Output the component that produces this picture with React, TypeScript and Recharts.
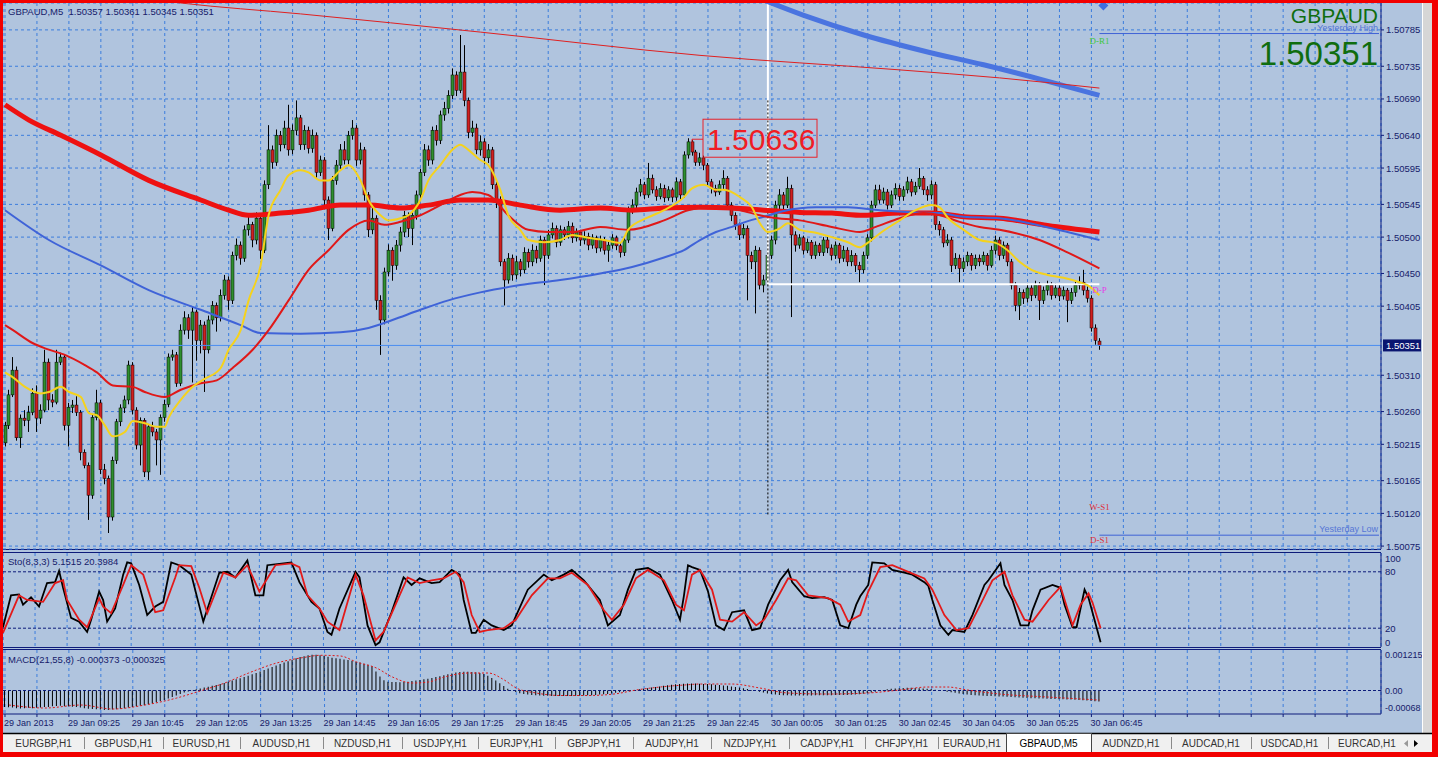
import React from 'react';
import {
  ComposedChart,
  Bar,
  Line,
  XAxis,
  YAxis,
  CartesianGrid,
  ReferenceLine,
  ReferenceDot,
} from 'recharts';

// GBPAUD M5 candles, prices in points above 1.50000
const BASE = 1.5;
const SLOTS = 345;

const opens = [
  217, 241, 283, 317, 224, 251, 248, 259, 285, 251, 262, 328, 276, 273, 328, 335, 241, 266, 269, 259,
  204, 186, 145, 252, 272, 180, 168, 115, 193, 246, 265, 276, 324, 262, 214, 248, 177, 239, 232, 221,
  252, 270, 335, 338, 299, 372, 389, 372, 397, 358, 379, 345, 386, 406, 389, 420, 441, 413, 475, 489,
  471, 510, 517, 496, 526, 482, 572, 620, 603, 640, 627, 650, 620, 647, 664, 627, 647, 622, 640, 589,
  606, 551, 512, 578, 599, 620, 606, 640, 650, 606, 620, 558, 510, 526, 413, 386, 452, 482, 461, 489,
  507, 530, 512, 530, 558, 589, 620, 606, 647, 633, 668, 677, 695, 723, 702, 727, 688, 644, 650, 620,
  631, 609, 620, 572, 551, 466, 441, 471, 448, 466, 455, 479, 466, 482, 471, 496, 475, 503, 512, 493,
  510, 503, 515, 499, 507, 496, 501, 489, 499, 485, 496, 482, 489, 499, 488, 479, 496, 537, 544, 562,
  572, 558, 581, 565, 556, 567, 554, 565, 555, 576, 558, 613, 631, 617, 603, 609, 599, 576, 567, 562,
  572, 581, 544, 530, 517, 503, 512, 475, 466, 482, 434, 441, 475, 496, 544, 558, 544, 567, 503, 489,
  499, 482, 493, 475, 489, 479, 496, 485, 475, 489, 471, 482, 466, 475, 461, 455, 475, 499, 544, 565,
  551, 562, 544, 558, 567, 556, 565, 576, 562, 570, 581, 565, 558, 572, 517, 510, 492, 496, 461, 471,
  457, 466, 475, 461, 471, 466, 475, 461, 482, 496, 475, 489, 466, 434, 406, 424, 416, 430, 420, 434,
  413, 427, 434, 420, 430, 419, 427, 413, 424, 434, 438, 427, 416, 375, 357,
];
const highs = [
  246, 290, 335, 322, 256, 262, 268, 292, 296, 270, 345, 333, 284, 345, 341, 338, 272, 276, 281, 262,
  208, 190, 256, 290, 276, 188, 172, 198, 250, 270, 282, 330, 328, 266, 252, 251, 243, 246, 236, 256,
  276, 340, 345, 342, 380, 398, 394, 405, 400, 386, 384, 392, 412, 410, 428, 448, 446, 480, 498, 494,
  516, 528, 521, 534, 530, 578, 654, 626, 648, 646, 660, 682, 655, 688, 668, 654, 652, 648, 644, 612,
  610, 556, 584, 606, 628, 632, 646, 661, 654, 630, 624, 562, 540, 530, 420, 458, 490, 486, 496, 514,
  536, 534, 536, 564, 594, 628, 626, 652, 654, 674, 686, 702, 732, 728, 778, 764, 692, 660, 656, 640,
  636, 628, 624, 576, 556, 470, 478, 476, 474, 470, 486, 484, 490, 488, 502, 500, 510, 520, 516, 516,
  514, 522, 520, 512, 510, 508, 506, 504, 502, 502, 500, 494, 504, 502, 492, 500, 542, 552, 568, 580,
  576, 602, 586, 570, 574, 572, 570, 568, 582, 580, 618, 636, 634, 620, 616, 612, 602, 580, 572, 578,
  592, 584, 548, 534, 520, 518, 516, 480, 488, 486, 448, 480, 502, 550, 566, 562, 583, 572, 508, 504,
  502, 498, 496, 494, 492, 500, 500, 490, 494, 492, 488, 486, 482, 478, 466, 480, 504, 550, 572, 572,
  568, 566, 564, 574, 572, 570, 583, 580, 576, 595, 584, 570, 578, 576, 522, 514, 504, 500, 478, 476,
  472, 480, 478, 476, 476, 480, 478, 488, 502, 500, 494, 492, 470, 438, 430, 428, 436, 434, 440, 438,
  432, 440, 438, 436, 434, 432, 430, 430, 440, 446, 455, 432, 420, 380, 361,
];
const lows = [
  212, 236, 280, 220, 210, 240, 232, 255, 232, 243, 259, 262, 266, 270, 324, 234, 212, 258, 254, 193,
  182, 111, 140, 248, 174, 160, 93, 110, 188, 240, 258, 270, 256, 208, 186, 170, 166, 226, 186, 173,
  246, 266, 330, 294, 295, 366, 360, 300, 330, 340, 287, 340, 380, 370, 384, 414, 400, 408, 468, 462,
  466, 502, 486, 490, 470, 478, 566, 594, 598, 618, 622, 612, 614, 640, 620, 620, 615, 616, 582, 584,
  540, 496, 508, 572, 594, 600, 600, 634, 598, 600, 550, 500, 504, 400, 338, 380, 446, 440, 455, 480,
  500, 500, 489, 524, 552, 584, 598, 600, 626, 628, 660, 670, 690, 694, 698, 680, 636, 638, 614, 612,
  600, 602, 566, 540, 460, 406, 436, 440, 442, 446, 450, 458, 460, 464, 466, 434, 470, 498, 486, 488,
  496, 498, 492, 494, 488, 490, 482, 484, 478, 480, 476, 466, 484, 482, 472, 474, 492, 532, 540, 556,
  552, 554, 560, 550, 552, 548, 550, 548, 550, 552, 554, 608, 612, 598, 598, 592, 570, 560, 556, 558,
  566, 538, 522, 510, 496, 498, 413, 456, 395, 428, 424, 436, 470, 490, 538, 536, 540, 390, 480, 484,
  476, 478, 470, 470, 474, 474, 478, 468, 470, 464, 466, 460, 460, 452, 438, 450, 470, 494, 540, 546,
  546, 538, 540, 552, 550, 550, 560, 556, 558, 566, 558, 550, 552, 510, 502, 486, 488, 452, 456, 438,
  452, 460, 454, 456, 460, 462, 454, 458, 476, 468, 470, 460, 428, 398, 386, 408, 410, 412, 416, 386,
  408, 420, 414, 416, 412, 414, 383, 408, 418, 428, 420, 410, 370, 352, 345,
];
const closes = [
  241, 283, 317, 224, 251, 248, 259, 285, 251, 262, 328, 276, 273, 328, 335, 241, 266, 269, 259, 204,
  186, 145, 252, 272, 180, 168, 115, 193, 246, 265, 276, 324, 262, 214, 248, 177, 239, 232, 221, 252,
  270, 335, 338, 299, 372, 389, 372, 397, 358, 379, 345, 386, 406, 389, 420, 441, 413, 475, 489, 471,
  510, 517, 496, 526, 482, 572, 620, 603, 640, 627, 650, 620, 647, 664, 627, 647, 622, 640, 589, 606,
  551, 512, 578, 599, 620, 606, 640, 650, 606, 620, 558, 510, 526, 413, 386, 452, 482, 461, 489, 507,
  530, 512, 530, 558, 589, 620, 606, 647, 633, 668, 677, 695, 723, 702, 727, 688, 644, 650, 620, 631,
  609, 620, 572, 551, 466, 441, 471, 448, 466, 455, 479, 466, 482, 471, 496, 475, 503, 512, 493, 510,
  503, 515, 499, 507, 496, 501, 489, 499, 485, 496, 482, 489, 499, 488, 479, 496, 537, 544, 562, 572,
  558, 581, 565, 556, 567, 554, 565, 555, 576, 558, 613, 631, 617, 603, 609, 599, 576, 567, 562, 572,
  581, 544, 530, 517, 503, 512, 475, 466, 482, 434, 441, 475, 496, 544, 558, 544, 567, 503, 489, 499,
  482, 493, 475, 489, 479, 496, 485, 475, 489, 471, 482, 466, 475, 461, 455, 475, 499, 544, 565, 551,
  562, 544, 558, 567, 556, 565, 576, 562, 570, 581, 565, 558, 572, 517, 510, 492, 496, 461, 471, 457,
  466, 475, 461, 471, 466, 475, 461, 482, 496, 475, 489, 466, 434, 406, 424, 416, 430, 420, 434, 413,
  427, 434, 420, 430, 419, 427, 413, 424, 434, 438, 427, 416, 375, 358, 351,
];

// moving averages as [bar, points]
const maYellow = [
  [0, 314], [2, 307], [5, 294], [9, 285], [11, 287], [14, 294], [16, 287], [19, 280], [21, 258], [23, 255],
  [25, 241], [27, 226], [30, 232], [32, 247], [35, 244], [38, 239], [40, 239], [41, 252], [44, 276], [47, 294],
  [50, 305], [54, 320], [56, 345], [59, 372], [61, 413], [64, 461], [66, 530], [69, 565], [71, 585], [74, 592],
  [76, 589], [79, 578], [81, 578], [84, 592], [86, 599], [89, 578], [91, 551], [94, 530], [96, 523], [99, 526],
  [101, 530], [104, 551], [106, 578], [109, 599], [112, 620], [114, 627], [116, 620], [119, 606], [121, 599],
  [124, 565], [126, 530], [129, 510], [131, 496], [135, 493], [139, 496], [142, 503], [146, 499], [150, 496],
  [154, 492], [156, 510], [161, 527], [165, 537], [170, 555], [172, 567], [175, 572], [178, 565], [180, 565],
  [184, 555], [187, 541], [189, 519], [191, 507], [194, 512], [196, 519], [199, 510], [203, 506], [207, 500],
  [211, 493], [214, 486], [216, 492], [219, 505], [224, 523], [228, 537], [232, 544], [234, 541], [236, 527],
  [240, 510], [244, 496], [248, 492], [251, 482], [254, 466], [257, 455], [261, 448], [265, 444], [269, 438],
  [271, 434], [274, 420],
];
const maRed = [
  [0, 379], [2, 372], [7, 354], [10, 347], [15, 338], [20, 324], [23, 314], [27, 296], [32, 294], [35, 287],
  [40, 280], [44, 290], [49, 299], [53, 303], [57, 320], [62, 345], [66, 372], [71, 413], [76, 455], [81, 482],
  [86, 510], [91, 523], [95, 517], [99, 521], [104, 530], [109, 544], [114, 558], [117, 562], [121, 558],
  [126, 530], [131, 510], [136, 507], [142, 507], [149, 514], [156, 510], [165, 523], [171, 537], [176, 541],
  [184, 537], [189, 530], [192, 527], [199, 523], [207, 514], [214, 507], [218, 514], [224, 526], [230, 533],
  [234, 530], [239, 521], [244, 514], [249, 510], [259, 496], [266, 479], [274, 457],
];
const maBlue = [
  [0, 537], [11, 496], [24, 461], [36, 427], [49, 400], [59, 379], [64, 368], [74, 367], [84, 369], [91, 375],
  [97, 386], [104, 400], [111, 413], [119, 424], [129, 434], [139, 441], [149, 450], [157, 459], [165, 472],
  [170, 482], [174, 496], [178, 507], [182, 514], [186, 522], [190, 528], [195, 536], [203, 541], [211, 541],
  [219, 537], [228, 534], [234, 533], [240, 528], [249, 526], [259, 516], [266, 507], [274, 496],
];
const maLong = [
  [0, 682], [6, 661], [14, 640], [24, 613], [36, 578], [49, 551], [56, 537], [61, 530], [69, 533], [76, 537],
  [84, 544], [91, 544], [99, 540], [106, 544], [114, 551], [121, 551], [129, 544], [139, 537], [149, 540],
  [157, 537], [165, 540], [174, 541], [182, 540], [190, 537], [199, 534], [207, 533], [215, 530], [224, 533],
  [232, 533], [240, 528], [249, 526], [261, 516], [274, 507],
];
const maH1 = [[190, 826], [200, 805], [215, 778], [230, 756], [245, 737], [260, 716], [274, 695]];
const maTop = [[30, 832], [44, 822], [74, 807], [119, 782], [174, 750], [224, 730], [249, 719], [274, 705]];

// Stochastic (8,3,3) as [bar, value]
const stoMain = [
  [0, 21], [2, 55], [4, 56], [5, 45], [7, 53], [9, 43], [11, 68], [13, 69], [14, 81], [15, 63], [17, 31],
  [19, 27], [21, 16], [22, 29], [24, 59], [25, 50], [26, 27], [28, 41], [30, 77], [31, 90], [32, 89], [34, 66],
  [36, 34], [38, 43], [40, 48], [42, 90], [44, 87], [47, 77], [50, 27], [54, 79], [56, 80], [58, 74], [61, 92],
  [63, 55], [65, 55], [66, 87], [72, 90], [74, 69], [77, 48], [79, 41], [81, 16], [82, 13], [84, 41], [88, 80],
  [89, 74], [91, 23], [93, 2], [94, 5], [97, 37], [100, 74], [102, 66], [104, 73], [107, 68], [109, 69],
  [112, 82], [114, 77], [115, 50], [117, 15], [118, 15], [120, 29], [122, 23], [125, 18], [127, 23], [131, 61],
  [135, 77], [137, 71], [140, 77], [142, 82], [145, 71], [149, 50], [151, 23], [154, 34], [156, 61], [158, 82],
  [161, 84], [164, 77], [167, 50], [169, 29], [170, 55], [171, 87], [172, 85], [174, 82], [176, 59], [178, 23],
  [180, 18], [182, 37], [185, 39], [187, 18], [189, 20], [191, 45], [194, 71], [196, 82], [197, 69], [200, 54],
  [202, 52], [205, 53], [207, 50], [209, 23], [211, 20], [213, 45], [214, 54], [216, 66], [217, 90], [220, 89],
  [222, 82], [225, 79], [227, 77], [230, 69], [231, 65], [232, 50], [234, 23], [236, 13], [237, 18], [240, 16],
  [242, 34], [245, 66], [246, 71], [249, 89], [250, 66], [252, 50], [254, 23], [256, 23], [257, 39], [259, 61],
  [262, 66], [264, 63], [265, 45], [267, 21], [268, 21], [270, 61], [271, 52], [274, 5],
];
const stoSignal = [
  [0, 15], [4, 55], [6, 50], [10, 48], [13, 68], [15, 71], [16, 50], [19, 29], [21, 21], [24, 52], [25, 43],
  [27, 36], [30, 66], [32, 87], [35, 77], [38, 37], [40, 39], [43, 74], [44, 87], [47, 86], [49, 63], [51, 36],
  [55, 79], [58, 74], [61, 87], [64, 59], [67, 80], [68, 87], [72, 89], [74, 85], [76, 55], [79, 41], [81, 27],
  [84, 18], [88, 77], [90, 55], [93, 7], [95, 16], [99, 55], [101, 74], [104, 68], [107, 71], [110, 73],
  [113, 80], [115, 69], [117, 34], [119, 16], [121, 18], [125, 20], [128, 29], [132, 55], [136, 73], [139, 73],
  [142, 79], [146, 66], [150, 39], [152, 29], [155, 45], [158, 73], [161, 82], [165, 71], [168, 45], [170, 39],
  [172, 77], [174, 82], [177, 61], [179, 29], [182, 27], [185, 37], [188, 23], [190, 29], [193, 50], [196, 73],
  [198, 71], [201, 55], [206, 52], [209, 45], [211, 27], [214, 34], [216, 59], [219, 85], [222, 87], [226, 80],
  [230, 73], [232, 61], [235, 34], [238, 18], [241, 20], [244, 45], [247, 71], [250, 80], [252, 55], [255, 29],
  [257, 27], [261, 50], [264, 64], [267, 23], [269, 45], [271, 57], [272, 47], [274, 20],
];

// MACD (21,55,8) histogram per bar, in millionths
const macdHist = [
  -560, -570, -580, -600, -610, -600, -590, -600, -590, -580, -560, -560, -540, -530, -520, -540, -540, -550,
  -560, -580, -600, -620, -630, -640, -650, -660, -660, -650, -640, -620, -600, -580, -560, -540, -520, -500,
  -470, -440, -400, -360, -320, -270, -220, -170, -120, -70, -30, 10, 40, 70, 100, 130, 160, 190, 220, 260,
  300, 340, 380, 420, 460, 500, 550, 600, 650, 700, 750, 800, 850, 900, 950, 1000, 1050, 1100, 1140, 1170,
  1200, 1215, 1215, 1200, 1180, 1150, 1120, 1100, 1080, 1060, 1040, 1010, 980, 950, 910, 880, 830, 650, 480,
  350, 300, 290, 290, 280, 290, 300, 320, 340, 360, 380, 400, 430, 460, 490, 520, 550, 580, 610, 630, 640,
  640, 630, 620, 600, 560, 500, 430, 340, 250, 150, 60, 0, -50, -90, -120, -140, -150, -160, -170, -175, -180,
  -185, -185, -190, -190, -185, -185, -180, -175, -170, -165, -160, -150, -140, -130, -120, -100, -80, -60,
  -40, -20, 0, 20, 40, 60, 80, 100, 120, 140, 160, 180, 200, 210, 220, 230, 240, 240, 235, 230, 225, 220, 210,
  200, 190, 175, 160, 140, 120, 100, 80, 50, 20, -10, -40, -70, -100, -120, -140, -150, -160, -165, -170, -170,
  -170, -170, -170, -170, -165, -165, -160, -160, -160, -155, -155, -150, -150, -145, -140, -130, -110, -90,
  -70, -40, -10, 20, 40, 60, 70, 80, 85, 90, 90, 85, 80, 70, 60, 50, 30, 10, -10, -40, -60, -80, -100, -120,
  -140, -150, -160, -170, -180, -185, -190, -195, -200, -205, -210, -220, -230, -240, -250, -255, -260, -265,
  -270, -275, -280, -285, -290, -295, -300, -305, -310, -315, -320, -330, -340, -350, -362, -373,
];
const macdSignal = [
  [1, -494], [10, -596], [19, -494], [27, -630], [35, -494], [43, -255], [48, -51], [55, 255], [61, 596],
  [68, 937], [75, 1130], [79, 1200], [84, 1175], [88, 971], [93, 766], [97, 460], [102, 255], [106, 290],
  [110, 460], [116, 596], [121, 596], [125, 358], [128, 85], [133, -85], [139, -170], [146, -170], [153, -110],
  [158, 17], [164, 119], [170, 187], [174, 221], [182, 221], [189, 85], [196, -85], [206, -119], [216, -85],
  [224, 17], [231, 119], [236, 119], [241, 17], [249, -119], [261, -221], [274, -325],
];

const priceTicks = [
  1.50785, 1.50735, 1.5069, 1.5064, 1.50595, 1.50545, 1.505, 1.5045, 1.50405, 1.5031, 1.5026, 1.50215,
  1.50165, 1.5012, 1.50075,
];
const timeLabels = [
  '29 Jan 2013', '29 Jan 09:25', '29 Jan 10:45', '29 Jan 12:05', '29 Jan 13:25', '29 Jan 14:45',
  '29 Jan 16:05', '29 Jan 17:25', '29 Jan 18:45', '29 Jan 20:05', '29 Jan 21:25', '29 Jan 22:45',
  '30 Jan 00:05', '30 Jan 01:25', '30 Jan 02:45', '30 Jan 04:05', '30 Jan 05:25', '30 Jan 06:45',
];
const tabs = [
  'EURGBP,H1', 'GBPUSD,H1', 'EURUSD,H1', 'AUDUSD,H1', 'NZDUSD,H1', 'USDJPY,H1', 'EURJPY,H1', 'GBPJPY,H1',
  'AUDJPY,H1', 'NZDJPY,H1', 'CADJPY,H1', 'CHFJPY,H1', 'EURAUD,H1', 'GBPAUD,M5', 'AUDNZD,H1', 'AUDCAD,H1',
  'USDCAD,H1', 'EURCAD,H1',
];
const tabEdges = [3, 84, 163, 240, 323, 402, 478, 555, 633, 711, 789, 865, 938, 1006, 1091, 1171, 1251, 1328, 1406];

const BG = '#b0c4de';
const GRID = '#3b7ddd';
const NAVY = '#0d1b7a';
const TXT = '#16206a';
const BULL = '#2f8f2f';
const BEAR = '#d02020';
const FONT = "'Liberation Sans', Arial, sans-serif";

const pt = (p: number) => BASE + p / 1e5;
const toMap = (pairs: number[][]) => new Map(pairs.map(([i, v]) => [i, v] as [number, number]));

const mYellow = toMap(maYellow);
const mRed = toMap(maRed);
const mBlue = toMap(maBlue);
const mLong = toMap(maLong);
const mH1 = toMap(maH1);
const mTop = toMap(maTop);
const mK = toMap(stoMain);
const mD = toMap(stoSignal);
const mSig = toMap(macdSignal);

const pick = (m: Map<number, number>, i: number, f: (v: number) => number) =>
  m.has(i) ? f(m.get(i) as number) : null;

const rows = Array.from({ length: SLOTS }, (_, i) => {
  const live = i < closes.length;
  return {
    i,
    o: live ? pt(opens[i]) : null,
    h: live ? pt(highs[i]) : null,
    l: live ? pt(lows[i]) : null,
    c: live ? pt(closes[i]) : null,
    range: live ? [pt(lows[i]), pt(highs[i])] : null,
    yellow: pick(mYellow, i, pt),
    red: pick(mRed, i, pt),
    blue: pick(mBlue, i, pt),
    long: pick(mLong, i, pt),
    h1: pick(mH1, i, pt),
    top: pick(mTop, i, pt),
    k: pick(mK, i, (v) => v),
    d: pick(mD, i, (v) => v),
    hist: live ? macdHist[i] / 1e6 : null,
    sig: pick(mSig, i, (v) => v / 1e6),
  };
});

const gridTicks = Array.from({ length: 43 }, (_, k) => k * 8);

const Candle = (props: any) => {
  const { x, y, width, height, payload } = props;
  if (!payload || payload.o == null || !Number.isFinite(y)) return <g />;
  const top = Math.min(y, y + height);
  const span = Math.abs(height);
  const { o, h, l, c } = payload;
  const k = h > l ? span / (h - l) : 0;
  const yAt = (v: number) => top + (h - v) * k;
  const cx = Math.round(x + width / 2) + 0.5;
  const bTop = yAt(Math.max(o, c));
  const bBot = yAt(Math.min(o, c));
  return (
    <g>
      <line x1={cx} x2={cx} y1={top} y2={top + span} stroke="#000" strokeWidth={1} />
      <rect
        x={cx - 1.5}
        y={bTop}
        width={3}
        height={Math.max(bBot - bTop, 1)}
        fill={c >= o ? BULL : BEAR}
        stroke="#000"
        strokeWidth={0.5}
      />
    </g>
  );
};

const NoTick = () => <g />;

const PriceTick = ({ x, y, payload }: any) => (
  <text x={x} y={y} dy={3.5} fontSize={9.5} fill={TXT} fontFamily={FONT} textAnchor="start">
    {payload.value.toFixed(5)}
  </text>
);

const stoShift: Record<number, number> = { 100: 5, 80: 0, 20: 0, 0: -5 };
const StoTick = ({ x, y, payload }: any) => (
  <text x={x} y={y + (stoShift[payload.value] || 0)} dy={3.5} fontSize={9.5} fill={TXT} fontFamily={FONT}>
    {String(payload.value)}
  </text>
);

const macdText = (v: number) => (v === 0 ? '0.00' : v > 0 ? '0.001215' : '-0.00068');
const MacdTick = ({ x, y, payload }: any) => (
  <text x={x} y={y + (payload.value < 0 ? -3 : 0)} dy={3.5} fontSize={9} fill={TXT} fontFamily={FONT}>
    {macdText(payload.value)}
  </text>
);

const TimeTick = ({ x, y, payload }: any) => {
  const n = payload.value;
  const idx = n / 16;
  if (!Number.isInteger(idx) || idx >= timeLabels.length) return <g />;
  return (
    <text x={x - 1} y={y + 7} fontSize={9} fill={TXT} fontFamily={FONT} textAnchor="start">
      {timeLabels[idx]}
    </text>
  );
};

const HighBox = ({ cx, cy }: any) => (
  <g>
    <polyline
      points={`${cx + 4},${cy + 4} ${cx + 4},${cy + 1} ${cx + 15},${cy + 1}`}
      fill="none"
      stroke="#e8222a"
    />
    <rect x={cx + 15} y={cy - 19} width={114} height={38} fill="none" stroke="#e8222a" />
    <text x={cx + 19} y={cy + 12} fontSize={30} fill="#f01c24" fontFamily={FONT}>
      1.50636
    </text>
  </g>
);

const BidBox = ({ cx, cy }: any) => (
  <g>
    <rect x={cx + 4} y={cy - 6} width={38} height={12} fill="#0a1670" />
    <text x={cx + 7} y={cy + 3.5} fontSize={9.5} fill="#fff" fontFamily={FONT}>
      1.50351
    </text>
  </g>
);

const pivotLabel = (text: string, color: string) => ({ cx, cy }: any) => (
  <text
    x={cx}
    y={cy + 3}
    textAnchor="middle"
    fontSize={9}
    fill={color}
    fontFamily="'Liberation Serif', 'Times New Roman', serif"
  >
    {text}
  </text>
);

const edgeLabel = (text: string) => ({ cx, cy }: any) => (
  <text x={cx - 1} y={cy - 3} textAnchor="end" fontSize={9} fill="#5676d6" fontFamily={FONT}>
    {text}
  </text>
);

const Diamond = ({ cx, cy }: any) => (
  <polygon points={`${cx},${cy + 6} ${cx - 5},${cy + 1} ${cx},${cy - 4} ${cx + 5},${cy + 1}`} fill="#3f6fe0" />
);

const lineProps = {
  dot: false,
  activeDot: false,
  connectNulls: true,
  isAnimationActive: false,
  type: 'monotone' as const,
};

const frame = (top: number, height: number, sides: string) => ({
  position: 'absolute' as const,
  left: 3,
  top,
  width: 1378,
  height,
  boxSizing: 'border-box' as const,
  borderTop: sides.includes('t') ? `1px solid ${NAVY}` : 'none',
  borderBottom: sides.includes('b') ? `1px solid ${NAVY}` : 'none',
});

export default function App() {
  return (
    <div
      style={{
        position: 'fixed',
        left: 0,
        top: 0,
        width: 1438,
        height: 757,
        background: BG,
        overflow: 'hidden',
        fontFamily: FONT,
      }}
    >
      <div style={frame(3, 547, 'b')} />
      <div style={frame(552, 96, 'tb')} />
      <div style={frame(649, 66, 't')} />

      {/* price window */}
      <div style={{ position: 'absolute', left: 0, top: 0 }}>
        <ComposedChart width={1438} height={552} data={rows} margin={{ top: 3, right: 17, bottom: 3, left: 3 }}>
          <CartesianGrid stroke={GRID} strokeDasharray="3 3" />
          <XAxis dataKey="i" type="category" ticks={gridTicks} interval={0} tick={<NoTick />} tickLine={false} axisLine={false} height={0} />
          <YAxis
            orientation="right"
            width={40}
            type="number"
            domain={[1.50071, 1.50822]}
            allowDataOverflow
            ticks={priceTicks}
            interval={0}
            tick={<PriceTick />}
            tickSize={3}
            tickMargin={2}
            tickLine={{ stroke: NAVY }}
            axisLine={{ stroke: NAVY }}
          />
          <ReferenceLine y={1.50351} stroke="#4b8df0" />
          <ReferenceLine segment={[{ x: 191, y: 1.50822 }, { x: 191, y: 1.50435 }]} stroke="#ffffff" strokeWidth={2} />
          <ReferenceLine segment={[{ x: 191, y: 1.50435 }, { x: 274, y: 1.50435 }]} stroke="#ffffff" strokeWidth={2} />
          <ReferenceLine segment={[{ x: 191, y: 1.50688 }, { x: 191, y: 1.50118 }]} stroke="#000" strokeDasharray="2 2" />
          <ReferenceLine segment={[{ x: 274, y: 1.5078 }, { x: 344, y: 1.5078 }]} stroke="#3f63d6" />
          <ReferenceLine segment={[{ x: 274, y: 1.5009 }, { x: 344, y: 1.5009 }]} stroke="#3f63d6" />
          <Bar dataKey="range" barSize={3} isAnimationActive={false} shape={(p: any) => <Candle {...p} />} />
          <Line dataKey="long" stroke="#ee1111" strokeWidth={5} {...lineProps} />
          <Line dataKey="blue" stroke="#3f63d8" strokeWidth={2} {...lineProps} />
          <Line dataKey="red" stroke="#e01818" strokeWidth={2} {...lineProps} />
          <Line dataKey="yellow" stroke="#f5d21c" strokeWidth={2} {...lineProps} />
          <Line dataKey="h1" stroke="#4a74e0" strokeWidth={5} {...lineProps} />
          <Line dataKey="top" stroke="#e02020" strokeWidth={1} {...lineProps} />
          <ReferenceDot x={171} y={1.50636} r={1} shape={(p: any) => <HighBox {...p} />} />
          <ReferenceDot x={344} y={1.50351} r={1} shape={(p: any) => <BidBox {...p} />} />
          <ReferenceDot x={344} y={1.5078} r={1} shape={edgeLabel('Yesterday High')} />
          <ReferenceDot x={344} y={1.5009} r={1} shape={edgeLabel('Yesterday Low')} />
          <ReferenceDot x={274} y={1.5077} r={1} shape={pivotLabel('D-R1', '#3cc83c')} />
          <ReferenceDot x={274} y={1.50427} r={1} shape={pivotLabel('D-P', '#e23ee8')} />
          <ReferenceDot x={274} y={1.50129} r={1} shape={pivotLabel('W-S1', '#e0303a')} />
          <ReferenceDot x={274} y={1.50083} r={1} shape={pivotLabel('D-S1', '#e0303a')} />
          <ReferenceDot x={275} y={1.5082} r={1} shape={(p: any) => <Diamond {...p} />} />
        </ComposedChart>
      </div>

      {/* stochastic window */}
      <div style={{ position: 'absolute', left: 0, top: 552 }}>
        <ComposedChart width={1438} height={96} data={rows} margin={{ top: 1, right: 17, bottom: 1, left: 3 }}>
          <CartesianGrid stroke={GRID} strokeDasharray="3 3" horizontal={false} />
          <XAxis dataKey="i" type="category" ticks={gridTicks} interval={0} tick={<NoTick />} tickLine={false} axisLine={false} height={0} />
          <YAxis
            orientation="right"
            width={40}
            domain={[0, 100]}
            ticks={[0, 20, 80, 100]}
            interval={0}
            tick={<StoTick />}
            tickLine={false}
            tickSize={0}
            tickMargin={4}
            axisLine={{ stroke: NAVY }}
          />
          <ReferenceLine y={80} stroke={NAVY} strokeDasharray="3 2" />
          <ReferenceLine y={20} stroke={NAVY} strokeDasharray="3 2" />
          <Line dataKey="k" stroke="#000" strokeWidth={1.8} {...lineProps} type="linear" />
          <Line dataKey="d" stroke="#e31a1a" strokeWidth={1.8} {...lineProps} type="linear" />
        </ComposedChart>
      </div>

      {/* MACD window + time axis */}
      <div style={{ position: 'absolute', left: 0, top: 648 }}>
        <ComposedChart width={1438} height={84} data={rows} margin={{ top: 2, right: 17, bottom: 0, left: 3 }}>
          <CartesianGrid stroke={GRID} strokeDasharray="3 3" horizontal={false} />
          <XAxis
            dataKey="i"
            type="category"
            ticks={gridTicks}
            interval={0}
            height={18}
            tickSize={3}
            tickMargin={2}
            tickLine={{ stroke: NAVY }}
            axisLine={{ stroke: NAVY }}
            tick={<TimeTick />}
          />
          <YAxis
            orientation="right"
            width={40}
            domain={[-0.0008, 0.00138]}
            allowDataOverflow
            ticks={[-0.00068, 0, 0.001215]}
            interval={0}
            tick={<MacdTick />}
            tickLine={false}
            tickSize={0}
            tickMargin={4}
            axisLine={{ stroke: NAVY }}
          />
          <ReferenceLine y={0} stroke={NAVY} strokeDasharray="3 2" />
          <Bar dataKey="hist" fill="#000" barSize={1} isAnimationActive={false} />
          <Line dataKey="sig" stroke="#e01818" strokeWidth={1} strokeDasharray="2 2" {...lineProps} />
        </ComposedChart>
      </div>

      {/* terminal chrome and text objects */}
      <svg width={1438} height={757} style={{ position: 'absolute', left: 0, top: 0, pointerEvents: 'none' }}>
        <g fontFamily={FONT}>
          <text x={8} y={15} fontSize={9.5} fill={TXT}>
            {'GBPAUD,M5\u00a0\u00a01.50357 1.50361 1.50345 1.50351'}
          </text>
          <text x={1378} y={23} fontSize={21} fill="#0f6d0f" textAnchor="end">GBPAUD</text>
          <text x={1378} y={65} fontSize={33} fill="#0f6d0f" textAnchor="end">1.50351</text>
          <text x={8} y={565} fontSize={9.5} fill={TXT}>Sto(8,3,3) 5.1515 20.3984</text>
          <text x={8} y={663} fontSize={9.5} fill={TXT}>MACD(21,55,8) -0.000373 -0.000325</text>

          <rect x={1422} y={3} width={10} height={730} fill="#d6d6d6" />
          <line x1={1422.5} x2={1422.5} y1={3} y2={733} stroke="#ffffff" />

          <rect x={3} y={733} width={1429} height={19} fill="#f0f0f0" />
          <line x1={3} x2={1432} y1={733.5} y2={733.5} stroke="#000" strokeWidth={1.5} />
          {tabs.map((t, k) => {
            const x0 = tabEdges[k];
            const x1 = tabEdges[k + 1];
            const active = t === 'GBPAUD,M5';
            const prevActive = k > 0 && tabs[k - 1] === 'GBPAUD,M5';
            return (
              <g key={t}>
                {active && <rect x={x0 + 0.5} y={733.5} width={x1 - x0} height={19} fill="#fff" stroke="#444" />}
                {!active && !prevActive && k > 0 && (
                  <line x1={x0 + 0.5} x2={x0 + 0.5} y1={737} y2={749} stroke="#8a8a8a" />
                )}
                <text x={(x0 + x1) / 2} y={746.5} fontSize={10} fill={active ? '#000' : '#333'} textAnchor="middle">
                  {t}
                </text>
              </g>
            );
          })}
          <polygon points="1408,740 1404,743.5 1408,747" fill="#999" />
          <polygon points="1414,740 1418,743.5 1414,747" fill="#000" />

          <rect x={0} y={0} width={1438} height={3} fill="#f20000" />
          <rect x={0} y={0} width={3} height={757} fill="#f20000" />
          <rect x={1432} y={0} width={6} height={757} fill="#f20000" />
          <rect x={0} y={752} width={1438} height={5} fill="#f20000" />
        </g>
      </svg>
    </div>
  );
}
